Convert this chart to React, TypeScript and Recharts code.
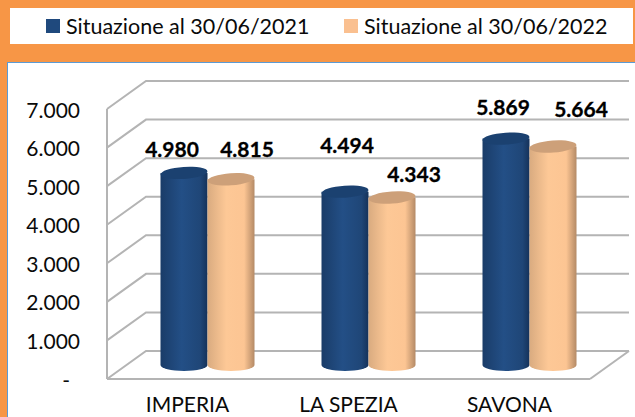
import { Bar, BarChart, CartesianGrid, LabelList, Legend, XAxis, YAxis } from "recharts";

const categories = ["IMPERIA", "LA SPEZIA", "SAVONA"];
const values2021 = [4980, 4494, 5869];
const values2022 = [4815, 4343, 5664];
const yTicks = [0, 1000, 2000, 3000, 4000, 5000, 6000, 7000];

const NAME_2021 = "Situazione al 30/06/2021";
const NAME_2022 = "Situazione al 30/06/2022";

const rows = categories.map((name, i) => ({ name, a: values2021[i], b: values2022[i] }));

// the labels were moved by hand in the original, so each one has its own nudge
const nudges2021 = [[-12, -24], [2, -47], [-3, -32]];
const nudges2022 = [[16, -31], [22, -24], [28, -38]];

const FONT = "Lato, sans-serif";
const GRID = "#b4b4b4";
const INK = "#0a0a0a";
const DEPTH_X = 39;
const DEPTH_Y = 28;

const formatThousands = (v: number) => `${Math.floor(v / 1000)}.${String(v % 1000).padStart(3, "0")}`;

// gridline running along the side wall and then the back wall
const WallLine = (props: any) => {
  const { x1, x2, y1, offset } = props;
  const bottom = offset ? offset.top + offset.height : 379;
  const isFloor = Math.abs(y1 - bottom) < 1;
  const back = y1 - DEPTH_Y;
  return (
    <g key={props.key}>
      <polyline
        points={`${x1},${y1} ${x1 + DEPTH_X},${back} ${x2 + DEPTH_X},${back}`}
        fill="none"
        stroke={GRID}
        strokeWidth={2}
      />
      {isFloor && <line x1={x2} y1={y1} x2={x2 + DEPTH_X} y2={back} stroke={GRID} strokeWidth={2} />}
    </g>
  );
};

const Cylinder = (props: any) => {
  const { x, y, width, height, gradient, cap } = props;
  const left = x + DEPTH_X / 2;
  const top = y - DEPTH_Y / 2;
  const rx = width / 2;
  const ry = 6;
  const cx = left + rx;
  const bottom = top + height;
  return (
    <g>
      <path
        d={`M${left},${top} L${left + width},${top} L${left + width},${bottom} A${rx},${ry} 0 0 1 ${left},${bottom} Z`}
        fill={`url(#${gradient})`}
      />
      <ellipse cx={cx} cy={top} rx={rx} ry={ry} fill={cap} transform={`rotate(-4 ${cx} ${top})`} />
    </g>
  );
};

const valueLabel = (nudges: number[][]) => (props: any) => {
  const { x, y, width, value, index } = props;
  const [dx, dy] = nudges[index];
  return (
    <text
      x={x + width / 2 + DEPTH_X / 2 + dx}
      y={y - DEPTH_Y / 2 + dy}
      textAnchor="middle"
      dominantBaseline="central"
      fontFamily={FONT}
      fontSize={21}
      fontWeight={700}
      stroke="#000"
      strokeWidth={0.3}
      fill="#000"
    >
      {formatThousands(value)}
    </text>
  );
};

// zero is a dash set in from the right, like an accounting format
const YTick = ({ x, y, payload }: any) => (
  <text
    x={payload.value === 0 ? x - 10 : x}
    y={y}
    textAnchor="end"
    dominantBaseline="central"
    fontFamily={FONT}
    fontSize={21}
    fill={INK}
  >
    {payload.value === 0 ? "-" : formatThousands(payload.value)}
  </text>
);

const LegendBox = ({ payload }: any) => (
  <div style={{ position: "relative", width: 623, height: 36, background: "#fff" }}>
    {(payload || []).map((item: any, i: number) => (
      <div key={item.value} style={{ position: "absolute", left: i === 0 ? 36 : 334, top: 0, height: 36, display: "flex", alignItems: "center" }}>
        <span style={{ display: "inline-block", width: 14, height: 14, background: item.color, marginRight: 6 }} />
        <span style={{ fontFamily: FONT, fontSize: 21.5, color: INK, whiteSpace: "nowrap" }}>{item.value}</span>
      </div>
    ))}
  </div>
);

export default function App() {
  return (
    <div style={{ position: "absolute", left: 0, top: 0, width: 635, height: 417, background: "#f79646", overflow: "hidden" }}>
      <div
        style={{
          position: "absolute",
          left: 7,
          top: 62,
          width: 628,
          height: 355,
          background: "#fff",
          borderTop: "1px solid #5b9bd5",
          borderLeft: "1px solid #5b9bd5",
          boxSizing: "border-box",
        }}
      />
      <BarChart
        width={635}
        height={417}
        data={rows}
        barGap={0}
        barSize={47}
        margin={{ top: 109, right: 45, bottom: 0, left: 0 }}
        style={{ position: "absolute", left: 0, top: 0 }}
      >
        <defs>
          <linearGradient id="blueCyl" x1="0" y1="0" x2="1" y2="0">
            <stop offset="0%" stopColor="#1a3c68" />
            <stop offset="45%" stopColor="#234f86" />
            <stop offset="85%" stopColor="#1f4677" />
            <stop offset="100%" stopColor="#15325a" />
          </linearGradient>
          <linearGradient id="orangeCyl" x1="0" y1="0" x2="1" y2="0">
            <stop offset="0%" stopColor="#d9ab80" />
            <stop offset="40%" stopColor="#fdc896" />
            <stop offset="78%" stopColor="#fcc593" />
            <stop offset="100%" stopColor="#b48a66" />
          </linearGradient>
        </defs>
        <CartesianGrid vertical={false} horizontal={(p: any) => <WallLine {...p} />} />
        <XAxis
          dataKey="name"
          height={38}
          tickLine={false}
          axisLine={{ stroke: GRID, strokeWidth: 2 }}
          tick={{ fontFamily: FONT, fontSize: 21, fill: INK }}
          tickMargin={12}
          interval={0}
        />
        <YAxis
          width={107}
          domain={[0, 7000]}
          ticks={yTicks}
          tickLine={false}
          tickSize={0}
          tickMargin={27}
          axisLine={{ stroke: GRID, strokeWidth: 2 }}
          tick={<YTick />}
        />
        <Legend
          verticalAlign="middle"
          content={<LegendBox />}
          wrapperStyle={{ left: 10, top: 8, width: 623, height: 36 }}
        />
        <Bar
          dataKey="a"
          name={NAME_2021}
          fill="#1f497d"
          isAnimationActive={false}
          shape={(p: any) => <Cylinder {...p} gradient="blueCyl" cap="#1b4170" />}
        >
          <LabelList dataKey="a" content={valueLabel(nudges2021)} />
        </Bar>
        <Bar
          dataKey="b"
          name={NAME_2022}
          fill="#fac090"
          isAnimationActive={false}
          shape={(p: any) => <Cylinder {...p} gradient="orangeCyl" cap="#cda079" />}
        >
          <LabelList dataKey="b" content={valueLabel(nudges2022)} />
        </Bar>
      </BarChart>
    </div>
  );
}
